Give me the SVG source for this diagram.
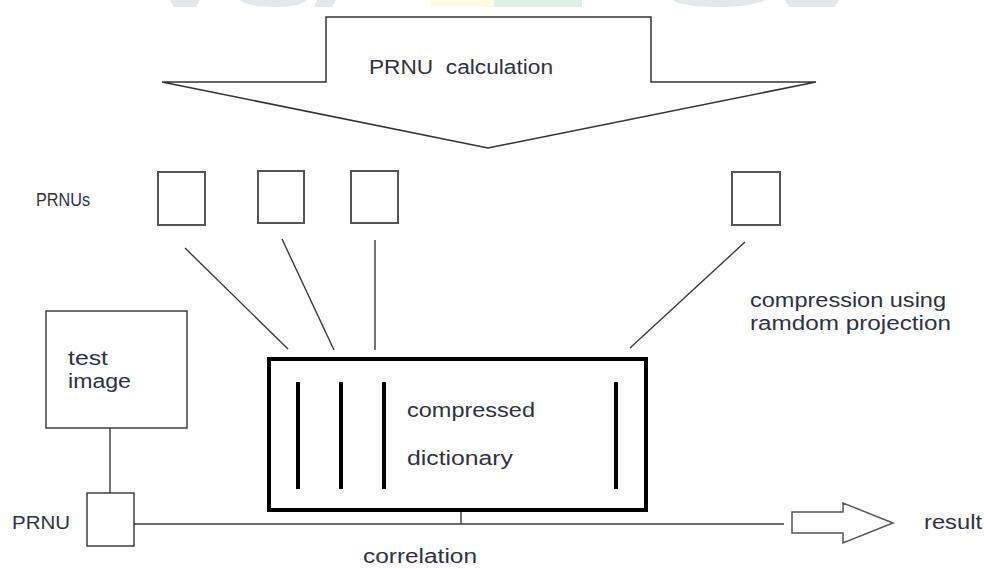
<svg xmlns="http://www.w3.org/2000/svg" width="984" height="569" viewBox="0 0 984 569">
<style>
  .t { font-family: "Liberation Sans", Arial, sans-serif; font-size: 20px; fill: #2e3240; }
  .s { font-size: 18px; }
  .thin { stroke: #3a3a3a; stroke-width: 1.4; fill: none; }
  .box { stroke: #555; stroke-width: 2; fill: #fff; }
  .bar { stroke: #000; stroke-width: 4; }
  .wm { stroke: none; }
</style>
<rect width="984" height="569" fill="#fff"/>
<g id="watermark">
  <polygon class="wm" fill="#e3e8eb" points="170,0 200,0 196,7 174,7"/>
  <path class="wm" fill="#e3e8eb" d="M240,0 H307 Q300,7 274,7 Q248,7 240,0 Z"/>
  <polygon class="wm" fill="#e3e8eb" points="317,0 336,0 332,7 314,7"/>
  <rect class="wm" fill="#fffbe2" x="430" y="0" width="64" height="7"/>
  <rect class="wm" fill="#dcf2e6" x="494" y="0" width="88" height="7"/>
  <path class="wm" fill="#e3e8eb" d="M672,0 H765 Q752,7 718,7 Q684,7 672,0 Z"/>
  <polygon class="wm" fill="#e3e8eb" points="785,0 839,0 835,7 789,7"/>
</g>
<g id="prnu-calculation">
  <polygon points="326,17 651,17 651,82 816,82 488,148 162,82 326,82" fill="#fff" stroke="#333" stroke-width="1.5"/>
  <text class="t" x="369" y="74" textLength="184" lengthAdjust="spacingAndGlyphs" xml:space="preserve">PRNU  calculation</text>
</g>
<g id="prnus-label"><text class="t s" x="36" y="206" textLength="54" lengthAdjust="spacingAndGlyphs">PRNUs</text></g>
<g id="prnu1"><rect class="box" x="158" y="172" width="47" height="53"/></g>
<g id="prnu2"><rect class="box" x="258" y="171" width="46" height="52"/></g>
<g id="prnu3"><rect class="box" x="351" y="171" width="47" height="52"/></g>
<g id="prnu4"><rect class="box" x="732" y="172" width="48" height="53"/></g>
<g id="compression-label">
  <text class="t" x="750" y="307" textLength="196" lengthAdjust="spacingAndGlyphs">compression using</text>
  <text class="t" x="750" y="330" textLength="201" lengthAdjust="spacingAndGlyphs">ramdom projection</text>
</g>
<g id="test-image">
  <rect x="46" y="311" width="141" height="117" fill="#fff" stroke="#333" stroke-width="1.4"/>
  <text class="t" x="68" y="365" textLength="40" lengthAdjust="spacingAndGlyphs">test</text>
  <text class="t" x="68" y="388" textLength="63" lengthAdjust="spacingAndGlyphs">image</text>
</g>
<g id="prnu-test">
  <rect x="87" y="493" width="47" height="53" fill="#fff" stroke="#333" stroke-width="1.4"/>
  <text class="t s" x="12" y="529" textLength="58" lengthAdjust="spacingAndGlyphs">PRNU</text>
</g>
<g id="compressed-dictionary">
  <rect x="269" y="359" width="377" height="151" fill="#fff" stroke="#000" stroke-width="4"/>
  <line class="bar" x1="298" y1="382" x2="298" y2="489"/>
  <line class="bar" x1="341" y1="382" x2="341" y2="489"/>
  <line class="bar" x1="384" y1="382" x2="384" y2="489"/>
  <line class="bar" x1="616" y1="382" x2="616" y2="489"/>
  <text class="t" x="407" y="417" textLength="128" lengthAdjust="spacingAndGlyphs">compressed</text>
  <text class="t" x="407" y="465" textLength="106" lengthAdjust="spacingAndGlyphs">dictionary</text>
</g>
<g id="result">
  <polygon points="792,512 843,512 843,503 893,523 843,543 843,533 792,533" fill="#fff" stroke="#555" stroke-width="1.5"/>
  <text class="t" x="924" y="529" textLength="58" lengthAdjust="spacingAndGlyphs">result</text>
</g>
<g id="correlation-label">
  <text class="t" x="363" y="563" textLength="114" lengthAdjust="spacingAndGlyphs">correlation</text>
</g>
<g id="connectors">
  <line class="thin" x1="185" y1="248" x2="288" y2="349"/>
  <line class="thin" x1="282" y1="239" x2="334" y2="350"/>
  <line class="thin" x1="375" y1="240" x2="375" y2="350"/>
  <line class="thin" x1="745" y1="242" x2="630" y2="348"/>
  <line class="thin" x1="110" y1="428" x2="110" y2="493"/>
  <line class="thin" x1="134" y1="524" x2="784" y2="524"/>
  <line class="thin" x1="461" y1="512" x2="461" y2="524"/>
</g>
</svg>
